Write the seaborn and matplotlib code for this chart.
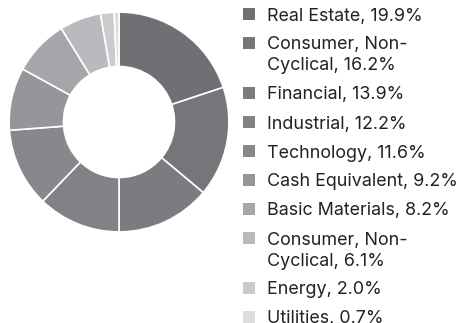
import matplotlib
matplotlib.use("Agg")
import matplotlib.pyplot as plt
from matplotlib.patches import Rectangle
import seaborn as sns

# Sector allocation
sectors = [
    "Real Estate", "Consumer, Non-\nCyclical", "Financial", "Industrial",
    "Technology", "Cash Equivalent", "Basic Materials", "Consumer, Non-\nCyclical",
    "Energy", "Utilities",
]
weights = [19.9, 16.2, 13.9, 12.2, 11.6, 9.2, 8.2, 6.1, 2.0, 0.7]
colors = [
    "#6f7074", "#75767a", "#7b7c80", "#818286", "#87888c",
    "#95969a", "#a5a6a9", "#b9babd", "#cacbcd", "#dcdddf",
]

sns.set_theme(style="white")
plt.rcParams["font.family"] = ["Inter", "DejaVu Sans"]

W, H = 459, 323
fig = plt.figure(figsize=(W / 100, H / 100), dpi=100)
fig.patch.set_facecolor("white")

# Donut
ax = fig.add_axes([8 / W, 1 - 233 / H, 222 / W, 222 / H])
ax.pie(
    weights,
    colors=colors,
    startangle=90,
    counterclock=False,
    radius=1.0,
    wedgeprops=dict(width=0.495, edgecolor="white", linewidth=1.2),
)
ax.set_xlim(-1.01, 1.01)
ax.set_ylim(-1.01, 1.01)
ax.set_aspect("equal")
ax.axis("off")

# Legend with square markers
lax = fig.add_axes([0, 0, 1, 1])
lax.set_xlim(0, W)
lax.set_ylim(H, 0)
lax.axis("off")

y = 14.0
step = 29.0
line_h = 21.0
for name, val, col in zip(sectors, weights, colors):
    lines = f"{name}, {val:.1f}%".split("\n")
    lax.add_patch(Rectangle((243, y - 6), 12, 12, facecolor=col, edgecolor="none"))
    for i, ln in enumerate(lines):
        lax.text(267, y + i * line_h, ln, fontsize=12.9, color="#222222",
                 va="center_baseline", ha="left")
    y += (len(lines) - 1) * line_h + step

fig.savefig("out.png", dpi=100, facecolor="white")
